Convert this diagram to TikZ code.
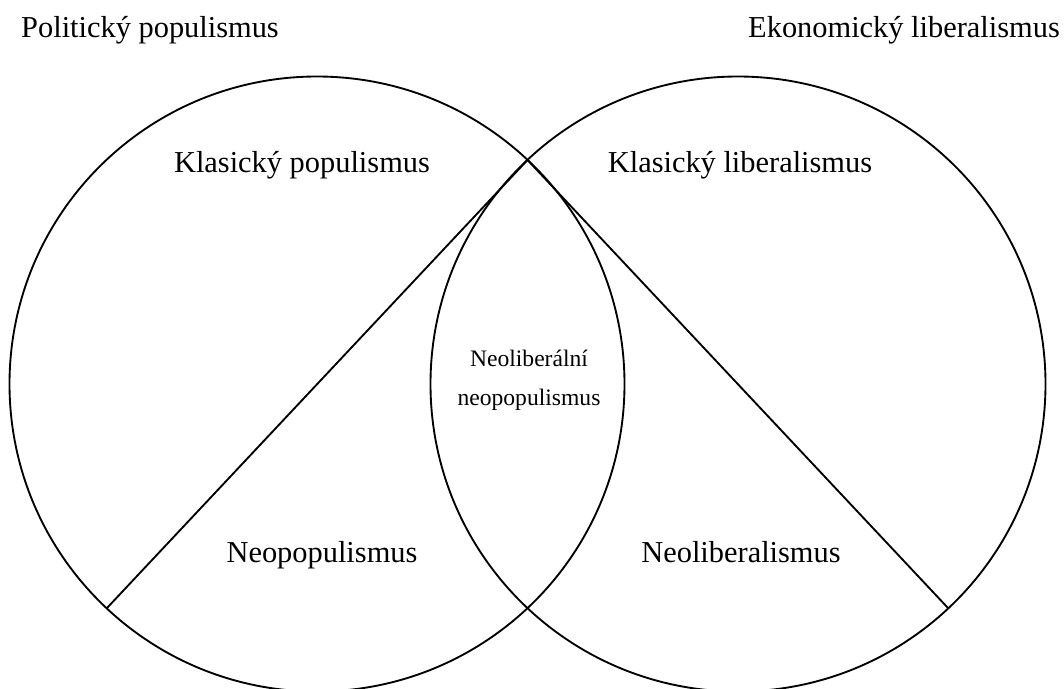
\documentclass[tikz,border=0pt]{standalone}
\usepackage{fontspec}
\setmainfont{Liberation Serif}
\begin{document}
\begin{tikzpicture}[x=0.75pt,y=-0.75pt,
  ring/.style={draw, circle, minimum size=461.25pt, inner sep=0pt, line width=1.4pt},
  divider/.style={line width=1.4pt},
  big/.style={font=\fontsize{22.8}{27}\selectfont, inner sep=0pt, anchor=base},
  small/.style={font=\fontsize{17.7}{29.25}\selectfont, inner sep=0pt, align=center}]
\useasboundingbox (0,0) rectangle (1064,689);
\node[ring] (L) at (317,384) {};
\node[ring] (R) at (738,384) {};
\coordinate (top) at (527.5,160);
\coordinate (bl) at (107,608);
\coordinate (br) at (948,608);
\draw[divider] (top) -- (bl);
\draw[divider] (top) -- (br);
\node[big] (pp) at (150,37) {Politický populismus};
\node[big] (el) at (904,37) {Ekonomický liberalismus};
\node[big] (kp) at (302,172) {Klasický populismus};
\node[big] (kl) at (740,172) {Klasický liberalismus};
\node[big] (np) at (322,562) {Neopopulismus};
\node[big] (nl) at (741,562) {Neoliberalismus};
\node[small] (nn) at (529,380) {Neoliberální\\neopopulismus};
\end{tikzpicture}
\end{document}
